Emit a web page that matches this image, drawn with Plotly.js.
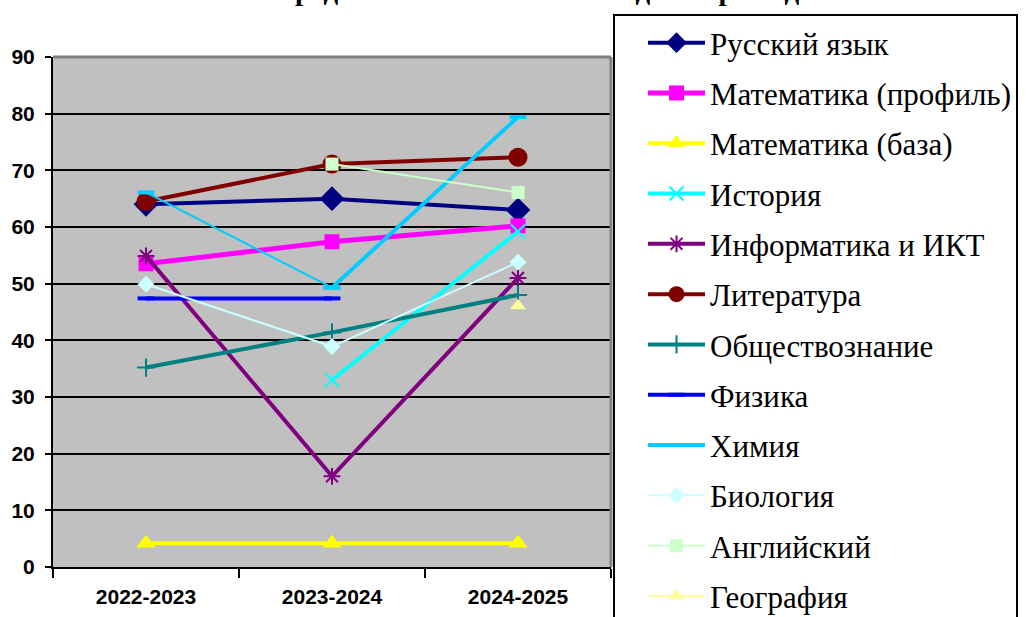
<!DOCTYPE html>
<html>
<head>
<meta charset="utf-8">
<script src="https://cdn.plot.ly/plotly-3.0.1.min.js"></script>
<style>html,body{margin:0;padding:0;background:#fff;}#chart{width:1032px;height:617px;}</style>
</head>
<body>
<div id="chart"></div>
<script>
const years = ["2022-2023", "2023-2024", "2024-2025"];
const titleText = "Средний балл ЕГЭ за последние три года";

const russian   = [64, 65, 63];
const mathProf  = [53.5, 57.4, 60.2];
const mathBase  = [4.2, 4.2, 4.2];
const history   = [null, 33, 59.2];
const informat  = [54.9, 16, 51];
const literature= [64.5, 71.1, 72.3];
const social    = [35.2, 41.4, 48];
const physics   = [47.4, 47.4, null];
const chemistry = [66.1, 49.3, 79.4];
const biology   = [49.9, 38.9, 53.8];
const english   = [null, 71.1, 66.1];
const geography = [null, null, 46.1];

const SERIF = '"Liberation Serif", "Times New Roman", Tinos, "DejaVu Serif", serif';
const SANS = 'Liberation Sans';

function tr(name, y, color, width, symbol, size, extra) {
  const t = {
    type: 'scatter', mode: 'lines+markers', name: name, x: years, y: y,
    line: {color: color, width: width},
    marker: {symbol: symbol, size: size, color: color, line: {color: color, width: 0}},
    legendgroup: name, connectgaps: false
  };
  return Object.assign(t, extra || {});
}

const chemSeg1 = chemistry.map((v, i) => i <= 1 ? v : null);
const chemSeg2 = chemistry.map((v, i) => i >= 1 ? v : null);

const data = [
  tr("Русский язык", russian, "#000080", 4, "diamond", 19),
  tr("Математика (профиль)", mathProf, "#FF00FF", 5, "square", 15),
  tr("Математика (база)", mathBase, "#FFFF00", 4, "triangle-up", 17),
  tr("История", history, "#00FFFF", 4, "x-thin-open", 14),
  tr("Информатика и ИКТ", informat, "#800080", 4, "asterisk-open", 14),
  tr("Литература", literature, "#800000", 4, "circle", 19),
  tr("Обществознание", social, "#008080", 4, "cross-thin-open", 13),
  tr("Физика", physics, "#0000FF", 4, "line-ew-open", 12),
  tr("Химия", chemSeg1, "#00CCFF", 2, "line-ew-open", 12, {showlegend:false, legendgroup:"Химия"}),
  tr("Химия", chemSeg2, "#00CCFF", 4, "line-ew-open", 12, {legendgroup:"Химия"}),
  tr("Биология", biology, "#CCFFFF", 2, "diamond", 13),
  tr("Английский", english, "#CCFFCC", 2, "square", 13),
  tr("География", geography, "#FFFF99", 2, "triangle-up", 14)
];
data.forEach(t => { if (t.marker.symbol.indexOf('open') >= 0) t.marker.line.width = 2; });
data[7].marker.line.width = 4;
data[8].marker.line.width = 4;
data[9].marker.line.width = 4;

const layout = {
  width: 1032, height: 617,
  margin: {l: 53, r: 421, t: 57, b: 50, autoexpand: false},
  paper_bgcolor: '#FFFFFF',
  plot_bgcolor: '#C0C0C0',
  showlegend: true,
  legend: {
    x: 1.0036, xanchor: 'left', y: 1.0843, yanchor: 'top',
    bgcolor: '#FFFFFF', bordercolor: '#000000', borderwidth: 2,
    font: {family: SERIF, size: 31, color: '#000'},
    tracegroupgap: 7, traceorder: 'grouped', itemwidth: 57, indentation: 28,
    maxheight: 2000
  },
  xaxis: {
    type: 'category', range: [-0.5, 2.5], fixedrange: true,
    showgrid: false, zeroline: false,
    showline: true, linecolor: '#000', linewidth: 2,
    ticks: 'outside', tickson: 'boundaries', ticklen: 9, tickwidth: 2, tickcolor: '#000',
    tickfont: {family: SANS, size: 21, color: '#000', weight: 'bold'},
    ticklabelstandoff: 10
  },
  yaxis: {
    range: [0, 90], dtick: 10, tick0: 0, fixedrange: true,
    showgrid: true, gridcolor: '#000', gridwidth: 2, zeroline: false,
    showline: true, linecolor: '#000', linewidth: 2,
    ticks: 'outside', ticklen: 6, tickwidth: 2, tickcolor: '#000',
    tickfont: {family: SANS, size: 21, color: '#000', weight: 'bold'},
    ticklabelstandoff: 6
  },
  shapes: [
    {type: 'line', xref: 'paper', yref: 'paper', x0: 0, x1: 1, y0: 1, y1: 1, line: {color: '#808080', width: 3}, layer: 'above'},
    {type: 'line', xref: 'paper', yref: 'paper', x0: 1, x1: 1, y0: 0, y1: 1, line: {color: '#808080', width: 3}, layer: 'above'}
  ],
  annotations: [
    {text: titleText, xref: 'paper', yref: 'paper', x: 0.88, y: 1.1314, xanchor: 'center', yanchor: 'middle',
     showarrow: false, font: {family: SERIF, size: 29, color: '#000', weight: 'bold'}}
  ]
};

Plotly.newPlot('chart', data, layout, {displayModeBar: false, staticPlot: true});
</script>
</body>
</html>
